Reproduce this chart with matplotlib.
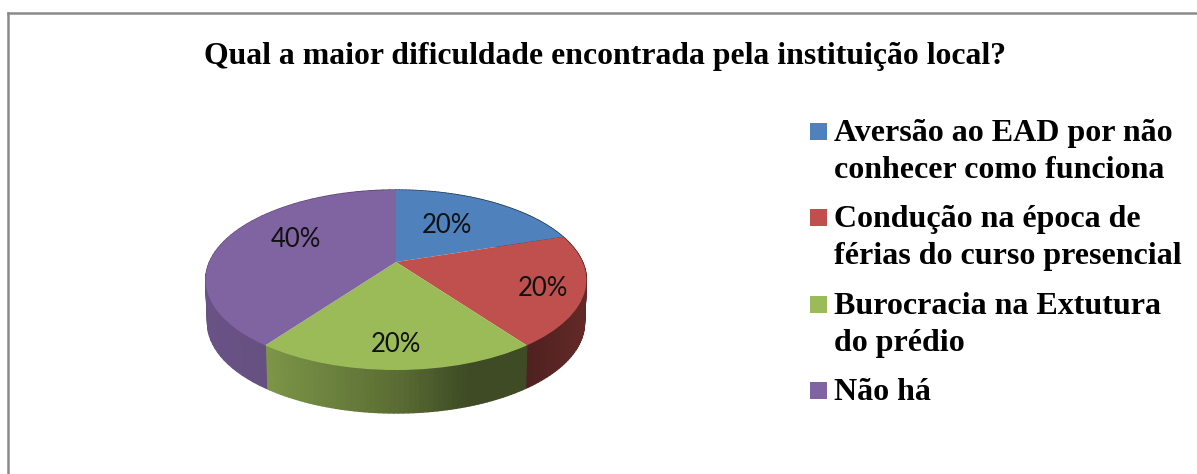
import numpy as np
import matplotlib
matplotlib.use("Agg")
import matplotlib.pyplot as plt
from matplotlib.collections import PolyCollection
from matplotlib.colors import to_rgb
from matplotlib.patches import Rectangle
from matplotlib.transforms import Transform

title = "Qual a maior dificuldade encontrada pela instituição local?"
categories = [
    "Aversão ao EAD por não\nconhecer como funciona",
    "Condução na época de\nférias do curso presencial",
    "Burocracia na Extutura\ndo prédio",
    "Não há",
]
shares = [20, 20, 20, 40]
slice_labels = ["20%", "20%", "20%", "40%"]
colors = ["#4F81BD", "#C0504D", "#9BBB59", "#8064A2"]

# perspective of the pie, in pixels
CX, CY = 396, 262
RX, RY = 186.5, 86.4
TILT = 0.2
DEPTH = 43
label_xy = [(447, 225), (543, 289), (396, 345), (296, 239)]
# darkening of the side wall across x
shade_x = [207, 267, 400, 470, 525, 587]
shade_v = [0.82, 0.80, 0.58, 0.40, 0.40, 0.52]


class Perspective(Transform):
    input_dims = output_dims = 2

    def transform_non_affine(self, values):
        values = np.asarray(values, dtype=float)
        w = 1 + TILT * values[:, 1]
        return np.column_stack((CX + RX * values[:, 0] / w, CY - RY * values[:, 1] / w))


fig = plt.figure(figsize=(11.97, 4.74), dpi=100)
ax = fig.add_axes([0, 0, 1, 1])
wedges, _ = ax.pie(shares, colors=colors, startangle=90, counterclock=False, radius=1)
ax.set_aspect("auto")
ax.set_xlim(0, 1197)
ax.set_ylim(474, 0)
ax.axis("off")

persp = Perspective()
for wedge in wedges:
    wedge.set_transform(persp + ax.transData)
    wedge.set_zorder(3)

# side wall of each slice, built from the same angles as the top
edges = np.cumsum([0] + shares) / sum(shares) * 2 * np.pi
for start, stop, color in zip(edges[:-1], edges[1:], colors):
    theta = np.linspace(start, stop, 60)
    top = persp.transform_non_affine(np.column_stack((np.sin(theta), np.cos(theta))))
    low = top.copy()
    low[:, 0] = CX + (top[:, 0] - CX) * 0.99
    low[:, 1] += DEPTH
    quads, fills = [], []
    for i in range(len(theta) - 1):
        quads.append([top[i], top[i + 1], low[i + 1], low[i]])
        fills.append(np.array(to_rgb(color)) * np.interp(top[i, 0], shade_x, shade_v))
    ax.add_collection(PolyCollection(quads, facecolors=fills, edgecolors=fills,
                                     linewidths=1.0, zorder=2))

for text, (x, y) in zip(slice_labels, label_xy):
    ax.text(x, y, text, family="Lato", fontsize=18.5, ha="center", va="center",
            color="#111111", zorder=4)

ax.text(605, 56, title, family="Liberation Serif", fontweight="bold", fontsize=22.9,
        ha="center", va="center", color="black")

# legend, one square and text block per category
baseline = [141, 227, 314, 400]
for name, color, y in zip(categories, colors, baseline):
    ax.add_patch(Rectangle((810, y - 18), 16.5, 16.5, facecolor=color, edgecolor="none"))
    for j, line in enumerate(name.split("\n")):
        ax.text(834, y + 37 * j, line, family="Liberation Serif", fontweight="bold",
                fontsize=23, ha="left", va="baseline", color="black")

# chart border
ax.plot([7.5, 7.5], [474, 13], color="#8a8a8a", lw=1.8)
ax.plot([7.5, 1197], [13, 13], color="#8a8a8a", lw=1.8)

fig.savefig("out.png", dpi=100)
